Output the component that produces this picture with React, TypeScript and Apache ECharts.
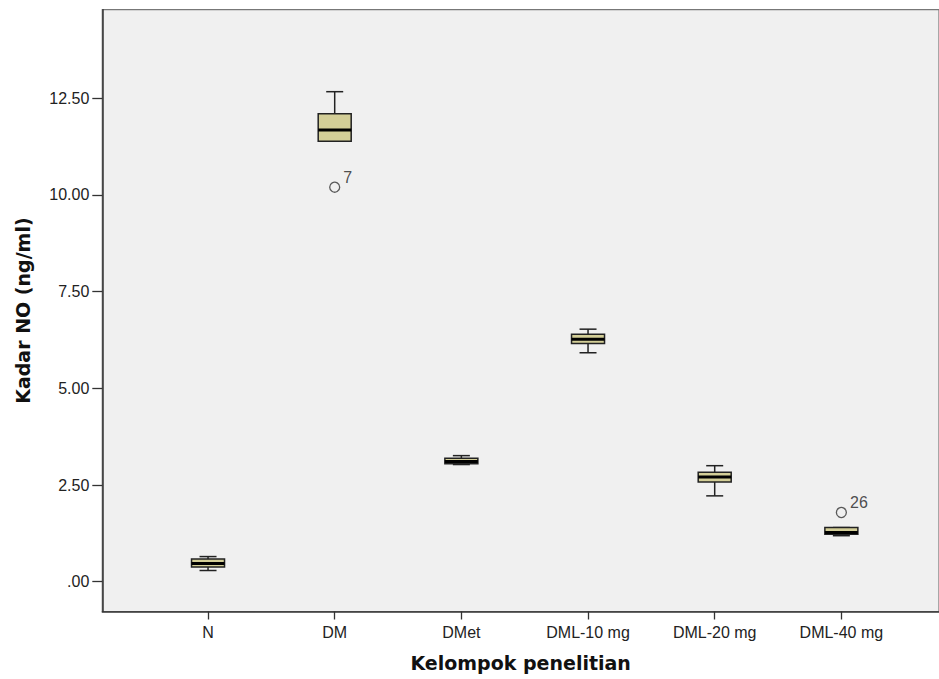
import React, { useEffect, useRef } from "react";
import * as echarts from "echarts";

const categories = ["N", "DM", "DMet", "DML-10 mg", "DML-20 mg", "DML-40 mg"];
const whiskerLow = [0.29, 11.39, 3.03, 5.92, 2.22, 1.19];
const quartile1 = [0.38, 11.39, 3.05, 6.16, 2.58, 1.23];
const medians = [0.47, 11.68, 3.11, 6.27, 2.71, 1.27];
const quartile3 = [0.59, 12.1, 3.19, 6.4, 2.83, 1.4];
const whiskerHigh = [0.65, 12.67, 3.26, 6.53, 3.0, 1.4];
const outlierGroups = [1, 5];
const outlierValues = [10.2, 1.79];
const outlierIds = ["7", "26"];
const yTickMax = 12.5;
const yTickStep = 2.5;

const W = 939;
const H = 679;
const frameLeft = 102.3;
const frameTop = 9.7;
const frameBottomY = 611.5;
const frameRight = -7;
const yMin = -0.77;
const yMax = 14.79;
const boxLeft = 144.7;
const boxRightEdge = 904.7;

const tickFont = "'Liberation Sans', Arial, sans-serif";
const titleFont = "'DejaVu Sans', Verdana, sans-serif";

export default function App() {
  const ref = useRef<HTMLDivElement>(null);
  useEffect(() => {
    if (!ref.current) return;
    const chart = echarts.init(ref.current, undefined, { renderer: "svg" });
    const plotH = frameBottomY - frameTop;
    const pxPerUnit = plotH / (yMax - yMin);
    const labelTop = frameTop + (yMax - yTickMax) * pxPerUnit;
    const zeroY = frameTop + yMax * pxPerUnit;
    const boxData = categories.map((_, i) => [
      i,
      whiskerLow[i],
      quartile1[i],
      medians[i],
      quartile3[i],
      whiskerHigh[i],
    ]);
    const outlierData = outlierGroups.map((g, i) => ({
      value: [g, outlierValues[i]],
      name: outlierIds[i],
    }));
    const option: any = {
      animation: false,
      backgroundColor: "#ffffff",
      grid: [
        {
          left: frameLeft,
          top: frameTop,
          right: frameRight,
          bottom: H - frameBottomY,
          show: true,
          backgroundColor: "#f0f0f0",
          borderColor: "#777",
          borderWidth: 1.2,
        },
        {
          left: boxLeft,
          top: frameTop,
          right: W - boxRightEdge,
          bottom: H - frameBottomY,
        },
        {
          left: frameLeft,
          top: labelTop,
          right: frameRight,
          bottom: H - zeroY,
        },
      ],
      xAxis: [
        {
          gridIndex: 0,
          type: "value",
          min: 0,
          max: 1,
          axisLine: { show: true, onZero: false, lineStyle: { color: "#333", width: 1.5 } },
          axisTick: { show: false },
          axisLabel: { show: false },
          splitLine: { show: false },
          name: "Kelompok penelitian",
          nameLocation: "middle",
          nameGap: 42,
          nameTextStyle: {
            fontFamily: titleFont,
            fontWeight: "bold",
            fontSize: 19,
            color: "#111",
          },
        },
        {
          gridIndex: 1,
          type: "category",
          data: categories,
          boundaryGap: true,
          axisLine: { show: false, onZero: false },
          axisTick: {
            show: true,
            alignWithLabel: true,
            length: 8,
            lineStyle: { color: "#333", width: 1.3 },
          },
          axisLabel: {
            fontFamily: tickFont,
            fontSize: 16,
            color: "#222",
            margin: 13,
          },
          splitLine: { show: false },
        },
        {
          gridIndex: 2,
          type: "value",
          show: false,
          min: 0,
          max: 1,
          axisLine: { show: false, onZero: false },
        },
      ],
      yAxis: [
        {
          gridIndex: 0,
          type: "value",
          min: yMin,
          max: yMax,
          axisLine: { show: true, onZero: false, lineStyle: { color: "#333", width: 1.5 } },
          axisTick: { show: false },
          axisLabel: { show: false },
          splitLine: { show: false },
          name: "Kadar NO (ng/ml)",
          nameLocation: "middle",
          nameGap: 70,
          nameTextStyle: {
            fontFamily: titleFont,
            fontWeight: "bold",
            fontSize: 19,
            color: "#111",
          },
        },
        {
          gridIndex: 1,
          type: "value",
          min: yMin,
          max: yMax,
          show: false,
          axisLine: { show: false, onZero: false },
        },
        {
          gridIndex: 2,
          type: "value",
          min: 0,
          max: yTickMax,
          interval: yTickStep,
          axisLine: { show: false, onZero: false },
          axisTick: {
            show: true,
            length: 10,
            lineStyle: { color: "#333", width: 1.3 },
          },
          axisLabel: {
            fontFamily: tickFont,
            fontSize: 16,
            color: "#222",
            margin: 13,
            formatter: (v: number) => (v === 0 ? ".00" : v.toFixed(2)),
          },
          splitLine: { show: false },
        },
      ],
      series: [
        {
          type: "custom",
          xAxisIndex: 1,
          yAxisIndex: 1,
          data: boxData,
          encode: { x: 0, y: [1, 2, 3, 4, 5] },
          renderItem: (params: any, api: any) => {
            const idx = api.value(0);
            const lo = api.coord([idx, api.value(1)]);
            const q1 = api.coord([idx, api.value(2)]);
            const md = api.coord([idx, api.value(3)]);
            const q3 = api.coord([idx, api.value(4)]);
            const hi = api.coord([idx, api.value(5)]);
            const x = lo[0];
            const bw = 33;
            const cw = 17;
            const lineStyle = { stroke: "#222", lineWidth: 1.5, fill: null };
            return {
              type: "group",
              children: [
                {
                  type: "line",
                  shape: { x1: x, y1: hi[1], x2: x, y2: q3[1] },
                  style: lineStyle,
                },
                {
                  type: "line",
                  shape: { x1: x, y1: q1[1], x2: x, y2: lo[1] },
                  style: lineStyle,
                },
                {
                  type: "line",
                  shape: { x1: x - cw / 2, y1: hi[1], x2: x + cw / 2, y2: hi[1] },
                  style: lineStyle,
                },
                {
                  type: "line",
                  shape: { x1: x - cw / 2, y1: lo[1], x2: x + cw / 2, y2: lo[1] },
                  style: lineStyle,
                },
                {
                  type: "rect",
                  shape: { x: x - bw / 2, y: q3[1], width: bw, height: q1[1] - q3[1] },
                  style: { fill: "#d3ce97", stroke: "#222", lineWidth: 1.5 },
                },
                {
                  type: "line",
                  shape: { x1: x - bw / 2, y1: md[1], x2: x + bw / 2, y2: md[1] },
                  style: { stroke: "#000", lineWidth: 3 },
                },
              ],
            };
          },
        },
        {
          type: "scatter",
          xAxisIndex: 1,
          yAxisIndex: 1,
          data: outlierData,
          symbol: "circle",
          symbolSize: 10,
          itemStyle: { color: "transparent", borderColor: "#333", borderWidth: 1.3 },
          label: {
            show: true,
            position: "right",
            distance: 3,
            offset: [0, -10],
            formatter: (p: any) => p.name,
            fontFamily: tickFont,
            fontSize: 16,
            color: "#222",
          },
        },
      ],
    };
    chart.setOption(option);
    return () => chart.dispose();
  }, []);
  return (
    <div
      ref={ref}
      style={{ position: "fixed", left: 0, top: 0, width: W, height: H }}
    />
  );
}
